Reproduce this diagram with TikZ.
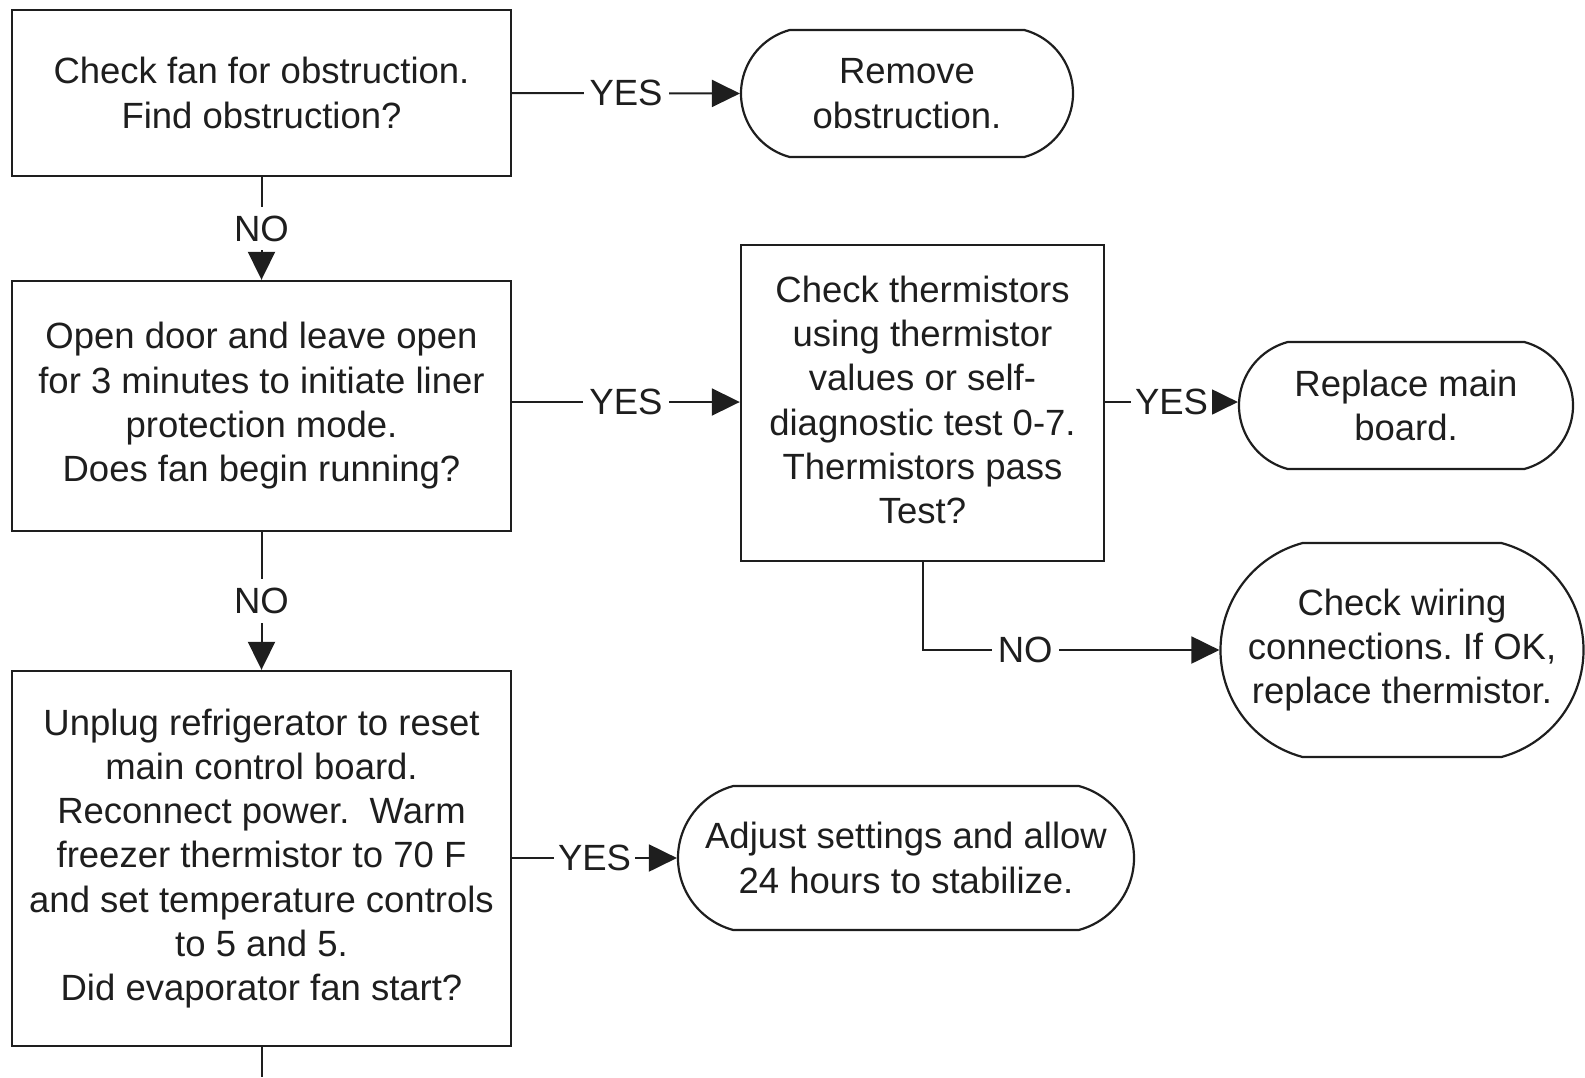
\documentclass[tikz,border=0pt]{standalone}
\usepackage{fontspec}
\setmainfont{Liberation Sans}
\usetikzlibrary{arrows.meta,shapes.misc}
\definecolor{ink}{HTML}{1E1E1E}
\frenchspacing
\begin{document}
\begin{tikzpicture}[x=1pt,y=-1pt,
  every node/.style={font=\fontsize{36.5}{44.3}\selectfont, text=ink, align=center},
  decision/.style={draw=ink, line width=2.4pt, rectangle, inner sep=0pt},
  terminal/.style={draw=ink, line width=2.2pt, rounded rectangle,
    rounded rectangle arc length=150, inner sep=0pt},
  link/.style={draw=ink, line width=2pt, -{Triangle[length=28pt,width=27pt]}},
  answer/.style={fill=white, inner xsep=6pt, inner ysep=9pt},
  tight/.style={fill=white, inner xsep=4pt, inner ysep=6pt}]
\useasboundingbox (0,0) rectangle (1585,1077);

% decision boxes
\node[decision, minimum width=499pt, minimum height=166pt] (fan) at (261.5,93)
  {Check fan for obstruction.\\Find obstruction?};
\node[decision, minimum width=499pt, minimum height=250pt] (door) at (261.5,406)
  {Open door and leave open\\for 3 minutes to initiate liner\\protection mode.\\Does fan begin running?};
\node[decision, minimum width=499pt, minimum height=375pt] (unplug) at (261.5,858.5)
  {Unplug refrigerator to reset\\main control board.\\Reconnect power.\ \ Warm\\freezer thermistor to 70 F\\and set temperature controls\\to 5 and 5.\\Did evaporator fan start?};
\node[decision, minimum width=363pt, minimum height=316pt] (therm) at (922.5,403)
  {Check thermistors\\using thermistor\\values or self-\\diagnostic test 0-7.\\Thermistors pass\\Test?\vspace{6pt}};

% end actions
\node[terminal, minimum width=332pt, minimum height=127pt] (remove) at (907,93.5)
  {Remove\\obstruction.};
\node[terminal, minimum width=334pt, minimum height=127pt] (board) at (1406,405.5)
  {Replace main\\board.};
\node[terminal, minimum width=363pt, minimum height=214pt] (wiring) at (1402,650)
  {Check wiring\\connections. If OK,\\replace thermistor.};
\node[terminal, minimum width=456pt, minimum height=144pt] (adjust) at (906,858)
  {Adjust settings and allow\\24 hours to stabilize.};

% connectors
\draw[link] (fan.south) -- node[answer] {NO} (door.north);
\draw[link] (door.south) -- node[answer] {NO} (unplug.north);
\draw[link] (fan.east) -- node[answer] {YES} (remove.west);
\draw[link] (door.east |- 0,402) -- node[answer] {YES} (therm.west |- 0,402);
\draw[link] (therm.east |- 0,402) -- node[tight] {YES} (board.west |- 0,402);
\draw[link] (therm.south) |- node[pos=0.673, answer] {NO} (wiring.west);
\draw[link] (unplug.east |- adjust.west) -- node[tight] {YES} (adjust.west);
\coordinate (next) at (261.5,1077);
\draw[draw=ink, line width=2pt] (unplug.south) -- (next);
\end{tikzpicture}
\end{document}
